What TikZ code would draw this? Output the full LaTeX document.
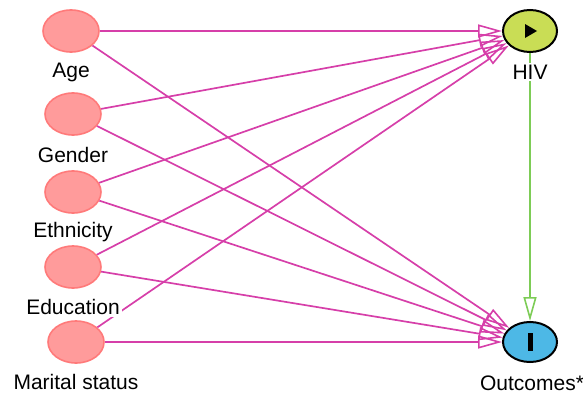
\documentclass[tikz,border=0pt]{standalone}
\usepackage{fontspec}
\setmainfont{Liberation Sans}
\usetikzlibrary{arrows.meta}
\usetikzlibrary{shapes.geometric,positioning}
\definecolor{riskfill}{HTML}{FF9B9B}
\definecolor{riskdraw}{HTML}{FF7A7A}
\definecolor{hivfill}{HTML}{C9DD55}
\definecolor{outfill}{HTML}{4DB8E6}
\definecolor{pathpink}{HTML}{D63FA9}
\definecolor{pathgreen}{HTML}{7DCC56}

\begin{document}
\begin{tikzpicture}[x=0.5pt,y=-0.5pt]
  \tikzset{riskvar/.style = {shape=ellipse,draw=riskdraw,fill=riskfill,line width=0.8pt,minimum width=28pt,minimum height=21pt,inner sep=0pt}}
  \tikzset{expvar/.style = {shape=ellipse,draw=black,fill=hivfill,line width=1pt,minimum width=27pt,minimum height=21pt,inner sep=0pt}}
  \tikzset{outvar/.style = {shape=ellipse,draw=black,fill=outfill,line width=1pt,minimum width=27pt,minimum height=20pt,inner sep=0pt}}
  \tikzset{varlabel/.style = {font=\fontsize{10.5}{12}\selectfont,fill=white,inner sep=1pt}}
  \tikzset{%
  tipO/.tip={Triangle[open,length=12pt,width=6.5pt,line width=0.8pt]},
}
  \tikzset{edge/.style = {-tipO,draw=pathpink,line width=0.85pt}}
  \tikzset{hivedge/.style = {-tipO,draw=pathgreen,line width=0.9pt}}

  \useasboundingbox (0,0) rectangle (583,396);

	\node[riskvar] (AG) at (71,31) {};
	\node[riskvar] (GE) at (73,114) {};
	\node[riskvar] (ET) at (73,192) {};
	\node[riskvar] (ED) at (73,267) {};
	\node[riskvar] (MS) at (76,342) {};

	\node[expvar] (HIV) at (530,31) {};
	\node[outvar] (OUT) at (530,342) {};
	\fill (525,24) -- (537,31) -- (525,38) -- cycle;
	\fill (527.5,333) rectangle (532.5,351);

    \foreach \from in {AG, GE, ET, ED, MS}
    \path[edge](\from) edge (HIV);

    \foreach \from in {AG, GE, ET, ED, MS}
    \path[edge](\from) edge (OUT);

    \path[hivedge](HIV) edge (OUT);

	\node[varlabel] (AGl) at (71,72) {Age};
	\node[varlabel] (GEl) at (73,155) {Gender};
	\node[varlabel] (ETl) at (73,232) {Ethnicity};
	\node[varlabel] (EDl) at (73,307) {Education};
	\node[varlabel] (MSl) at (76,382) {Marital status};
	\node[varlabel] (HIVl) at (530,72) {HIV};
	\node[varlabel] (OUTl) at (532,383) {Outcomes*};

\end{tikzpicture}
\end{document}
